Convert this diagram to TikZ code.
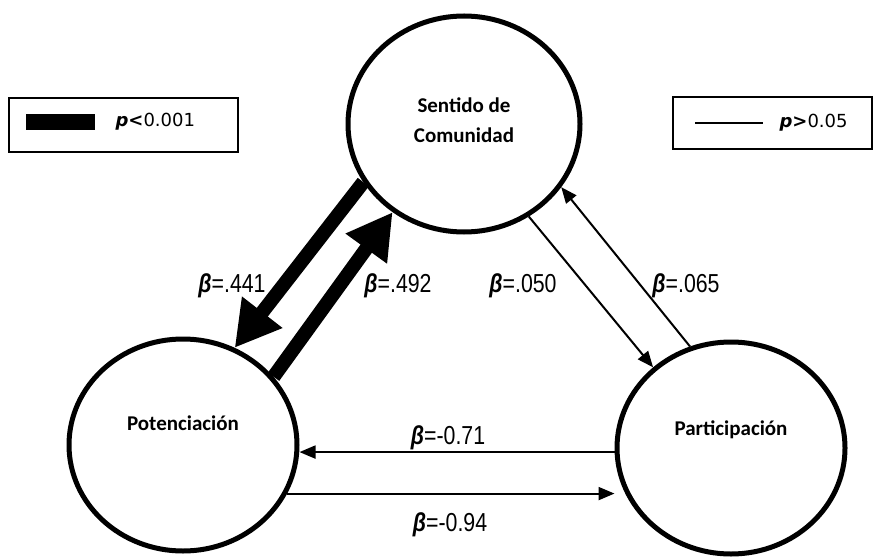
\documentclass[tikz,border=0pt]{standalone}
\usepackage{fontspec}
\newfontfamily\nodefont{Carlito}
\newfontfamily\betafont[FakeStretch=0.82]{Liberation Sans}
\newfontfamily\legfont{DejaVu Sans}
\usetikzlibrary{shapes.geometric, arrows.meta}

\newcommand{\betasym}{{\bfseries\itshape β}}

\begin{document}
\begin{tikzpicture}[x=1pt, y=-1pt,
	var/.style={ellipse, draw, line width=5pt, minimum width=228pt, minimum height=212pt, inner sep=0pt},
	vartxt/.style={font=\nodefont\bfseries\fontsize{21}{30}\selectfont, align=center},
	beta/.style={font=\betafont\fontsize{26}{30}\selectfont, anchor=base},
	legbox/.style={draw, line width=2.5pt, inner sep=0pt},
	legtxt/.style={font=\legfont\fontsize{18}{22}\selectfont, anchor=west},
	strong/.style={line width=14pt, -{Triangle[length=45pt,width=48pt]}},
	weak/.style={line width=2pt, -{Triangle[length=16pt,width=13pt]}}
]
	\useasboundingbox (0,0) rectangle (890,556);

	% legend
	\node[legbox, minimum width=229pt, minimum height=54pt] (legstrong) at (123.5,125) {};
	\coordinate (ls1) at (26,122);
	\coordinate (ls2) at (95,122);
	\draw[line width=16pt] (ls1) -- (ls2);
	\node[legtxt] (lstxt) at (112,122) {{\bfseries\itshape p}{\bfseries <}0.001};

	\node[legbox, minimum width=199pt, minimum height=52pt] (legweak) at (772.5,123) {};
	\coordinate (lw1) at (695,123);
	\coordinate (lw2) at (763,123);
	\draw[line width=2pt] (lw1) -- (lw2);
	\node[legtxt] (lwtxt) at (776,123) {{\bfseries\itshape p}{\bfseries >}0.05};

	% variables
	\node[var, minimum width=232pt, minimum height=216pt,
		label={[vartxt, yshift=4pt]center:Sentido de\\Comunidad}
	] (sc) at (464,124) {};

	\node[var,
		label={[vartxt, yshift=22pt]center:Potenciación}
	] (pot) at (183,445) {};

	\node[var,
		label={[vartxt, yshift=18pt]center:Participación}
	] (par) at (731,448) {};

	% paths
	\draw[strong] (sc.210) -- (pot.62);
	\draw[strong] (pot.37) -- (sc.231);
	\draw[weak] (sc.-55) -- (par.134);
	\draw[weak] (par.112) -- (sc.-33);
	\draw[weak] (par.182) -- (par.182 -| pot.east);
	\draw[weak] (pot.-25) -- (pot.-25 -| par.west);

	\node[beta] (b441) at (232,292) {\betasym=.441};
	\node[beta] (b492) at (398,292) {\betasym=.492};
	\node[beta] (b050) at (523,292) {\betasym=.050};
	\node[beta] (b065) at (686,292) {\betasym=.065};
	\node[beta] (b071) at (448,444) {\betasym=-0.71};
	\node[beta] (b094) at (450,531) {\betasym=-0.94};
\end{tikzpicture}
\end{document}
